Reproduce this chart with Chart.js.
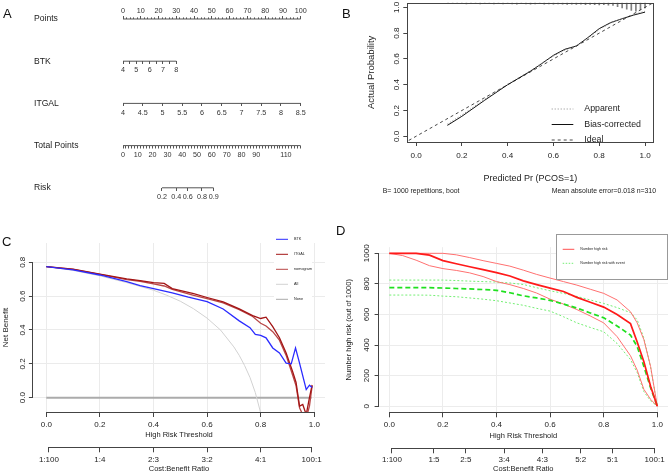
<!DOCTYPE html>
<html><head><meta charset="utf-8">
<script src="https://cdn.jsdelivr.net/npm/chart.js@4.4.1/dist/chart.umd.min.js"></script>
<style>
html,body{margin:0;padding:0;background:#fff;}
body{width:669px;height:473px;position:relative;overflow:hidden;font-family:"Liberation Sans",Arial,sans-serif;}
canvas{position:absolute;}
.lbl{position:absolute;font-size:13px;line-height:13px;color:#111;z-index:5;}
</style></head><body>
<canvas id="cA" width="335" height="230" style="left:0;top:0;width:335px;height:230px"></canvas>
<canvas id="cB" width="334" height="230" style="left:335px;top:0;width:334px;height:230px"></canvas>
<canvas id="cC" width="335" height="243" style="left:0;top:230px;width:335px;height:243px"></canvas>
<canvas id="cD" width="334" height="243" style="left:335px;top:230px;width:334px;height:243px"></canvas>
<div class="lbl" style="left:3px;top:7px">A</div>
<div class="lbl" style="left:342px;top:7px">B</div>
<div class="lbl" style="left:2px;top:235px">C</div>
<div class="lbl" style="left:336px;top:224px">D</div>
<script>
// ---------------- Panel A: nomogram ----------------
const nomRows = ['Points','BTK','ITGAL','Total Points','Risk'];
const nomRowPos = [0,1,2,3,4];
const pointsLabels = [0,10,20,30,40,50,60,70,80,90,100];
const pointsMinorStep = 2;
const btkTicks = [4,4.5,5,5.5,6,6.5,7,7.5,8];
const btkLabels = [4,5,6,7,8];
const btkPointsAtMax = 30;
const itgalTicks = [4,4.5,5,5.5,6,6.5,7,7.5,8,8.5];
const totalLabels = [0,10,20,30,40,50,60,70,80,90,110];
const totalMax = 120;
const totalMinorStep = 2;
const riskLabels = ['0.2','0.4','0.6','0.8','0.9'];
const riskAtTotal = [26.3,35.9,43.7,53.3,61.2];

// ---------------- Panel B: calibration ----------------
const calTicks = [0,0.2,0.4,0.6,0.8,1.0];
const calX     = [0.137,0.2,0.3,0.4,0.5,0.55,0.6,0.65,0.7,0.75,0.8,0.85,0.9,0.95,1.0];
const biasY    = [0.085,0.155,0.28,0.40,0.505,0.565,0.628,0.675,0.70,0.765,0.835,0.882,0.912,0.94,0.963];
const apparentY= [0.095,0.165,0.288,0.405,0.51,0.568,0.622,0.668,0.702,0.76,0.828,0.878,0.914,0.945,0.97];
const idealX   = [-0.1,1.1];
const rugX = [0.14,0.16,0.18,0.20,0.22,0.24,0.26,0.28,0.30,0.32,0.34,0.36,0.38,0.40,0.42,0.44,0.46,0.48,0.50,0.52,0.54,0.56,0.58,0.60,0.62,0.64,0.66,0.68,0.70,0.72,0.74,0.76,0.78,0.80,0.82,0.84,0.86,0.88,0.90,0.92,0.94,0.96,0.98,1.0];
const rugH = [0.006,0.008,0.006,0.008,0.01,0.008,0.006,0.01,0.008,0.008,0.01,0.008,0.01,0.008,0.01,0.012,0.008,0.01,0.012,0.01,0.008,0.012,0.01,0.012,0.01,0.012,0.014,0.012,0.014,0.012,0.016,0.014,0.016,0.018,0.016,0.02,0.022,0.03,0.04,0.05,0.06,0.065,0.055,0.04];
const calXRange = [-0.038,1.036];
const calYRange = [-0.044,1.036];

// ---------------- Panel C: decision curve ----------------
const dcaTicks = [0,0.2,0.4,0.6,0.8,1.0];
const nbTicks = [0,0.2,0.4,0.6,0.8];
const cbLabelsC = ['1:100','1:4','2:3','3:2','4:1','100:1'];
const cbPosC = [0.0099,0.2,0.4,0.6,0.8,0.9901];
const btkT  = [0,0.1,0.2,0.3,0.35,0.4,0.47,0.53,0.6,0.66,0.72,0.76,0.78,0.80,0.82,0.845,0.87,0.895,0.914,0.93,0.945,0.97,0.982,0.992];
const btkNB = [0.775,0.755,0.725,0.686,0.662,0.644,0.62,0.594,0.568,0.524,0.454,0.414,0.374,0.368,0.354,0.294,0.264,0.204,0.2,0.294,0.204,0.048,0.074,0.06];
const redT    = [0,0.1,0.2,0.3,0.35,0.4,0.44,0.47,0.55,0.6,0.66,0.72,0.77,0.80,0.82,0.845,0.87,0.895,0.92,0.932,0.945,0.957,0.97,0.982,0.992];
const itgalNB = [0.775,0.76,0.73,0.702,0.692,0.68,0.675,0.645,0.615,0.592,0.566,0.525,0.485,0.468,0.476,0.42,0.354,0.264,0.15,0.09,-0.05,-0.04,-0.1,0.0,0.075];
const nomoNB  = [0.775,0.758,0.728,0.698,0.688,0.672,0.66,0.64,0.605,0.585,0.56,0.52,0.48,0.44,0.424,0.39,0.34,0.25,0.13,0.07,-0.06,-0.1,-0.12,-0.05,0.07];
const allT  = [0,0.1,0.2,0.3,0.4,0.45,0.5,0.55,0.6,0.65,0.7,0.72,0.74,0.76,0.78,0.8];
const allNB = [0.775,0.752,0.72,0.68,0.635,0.605,0.57,0.525,0.47,0.4,0.3,0.25,0.19,0.12,0.03,-0.09];
const noneT  = [0,0.99];
const noneNB = [0,0];

// ---------------- Panel D: clinical impact ----------------
const nhrTicks = [0,200,400,600,800,1000];
const cbLabelsD = ['1:100','1:5','2:5','3:4','4:3','5:2','5:1','100:1'];
const cbPosD = [0.0099,0.1667,0.2857,0.4286,0.5714,0.7143,0.8333,0.9901];
const impT = [0,0.05,0.1,0.15,0.2,0.25,0.3,0.35,0.4,0.45,0.5,0.55,0.6,0.65,0.7,0.75,0.8,0.85,0.9,0.925,0.95,0.975,1.0];
const hrMain  = [1000,1000,1000,988,952,932,912,893,874,852,820,795,772,750,712,680,648,600,540,420,290,130,0];
const hrUpper = [1000,1000,1000,1000,1000,990,972,952,934,916,890,862,838,815,792,765,738,695,618,545,435,260,0];
const hrLower = [1000,985,955,919,900,888,872,848,815,795,770,740,700,668,632,590,545,455,330,236,110,45,0];
const evMain  = [775,775,775,775,773,770,767,763,758,742,722,708,692,668,642,610,578,525,465,390,260,120,0];
const evUpper = [825,825,825,825,825,822,818,815,812,806,796,775,755,738,718,695,672,645,612,565,445,255,0];
const evLower = [727,727,727,726,720,716,708,700,690,675,660,640,622,585,545,515,487,410,305,220,95,35,0];

// ---------------- helpers ----------------
const FONT = "'Liberation Sans', Arial, Helvetica, sans-serif";
const TXT = '#222';
const AXC = '#444';
Chart.defaults.font.family = FONT;
Chart.defaults.color = TXT;
Chart.defaults.animation = false;
Chart.defaults.events = [];
Chart.defaults.plugins.legend.display = false;
Chart.defaults.plugins.tooltip.enabled = false;

function range(a, b, s) { const r = []; for (let v = a; v <= b + 1e-9; v += s) r.push(+v.toFixed(4)); return r; }
function pts(xs, ys) { return xs.map((x, i) => ({x: x, y: ys[i]})); }
function setTicks(vals) { return s => { s.ticks = vals.map(v => ({value: v})); }; }
function fixW(w) { return s => { s.width = w; s.paddingTop = 0; s.paddingBottom = 0; s.paddingLeft = 0; s.paddingRight = 0; }; }
function fixH(h) { return s => { s.height = h; s.paddingTop = 0; s.paddingBottom = 0; s.paddingLeft = 0; s.paddingRight = 0; }; }

const rPlugin = {
  id: 'rstyle',
  afterDatasetsDraw(chart, args, o) {
    const ctx = chart.ctx;
    const a = chart.chartArea;
    ctx.save();
    ctx.strokeStyle = AXC; ctx.lineWidth = 1; ctx.setLineDash([]);
    if (o.box) {
      ctx.strokeRect(Math.round(a.left) + 0.5, Math.round(a.top) + 0.5, Math.round(a.right - a.left), Math.round(a.bottom - a.top));
    }
    (o.axisLines || []).forEach(id => {
      const s = chart.scales[id];
      const t = s.ticks; if (!t.length) return;
      const p0 = s.getPixelForValue(t[0].value), p1 = s.getPixelForValue(t[t.length - 1].value);
      ctx.beginPath();
      if (s.isHorizontal()) { const y = Math.round(s.top) + 0.5; ctx.moveTo(p0, y); ctx.lineTo(p1, y); }
      else { const x = Math.round(s.right) - 0.5; ctx.moveTo(x, p0); ctx.lineTo(x, p1); }
      ctx.stroke();
    });
    const L = o.legend;
    if (L) {
      ctx.save();
      if (L.clip) { ctx.beginPath(); ctx.rect(a.left, a.top, a.right - a.left, a.bottom - a.top); ctx.clip(); }
      if (L.bg) {
        ctx.fillStyle = '#fff'; ctx.fillRect(L.bg[0], L.bg[1], L.bg[2], L.bg[3]);
        if (L.border) { ctx.strokeStyle = L.border; ctx.lineWidth = 1; ctx.strokeRect(L.bg[0] + 0.5, L.bg[1] + 0.5, L.bg[2], L.bg[3]); }
      }
      L.items.forEach((it, k) => {
        const ds = chart.data.datasets[it.ds];
        const y = L.y + k * L.dy;
        ctx.beginPath();
        ctx.setLineDash(it.dash || ds.borderDash || []);
        ctx.strokeStyle = it.color || ds.borderColor;
        ctx.lineWidth = it.lw || ds.borderWidth;
        ctx.moveTo(L.x, y); ctx.lineTo(L.x + L.len, y); ctx.stroke();
        ctx.setLineDash([]);
        ctx.fillStyle = L.textColor || TXT;
        ctx.font = L.size + 'px ' + FONT;
        ctx.textBaseline = 'middle'; ctx.textAlign = 'left';
        ctx.fillText(ds.label, L.x + L.len + L.gap, y);
      });
      ctx.restore();
    }
    (o.texts || []).forEach(t => {
      ctx.fillStyle = TXT; ctx.font = t.size + 'px ' + FONT;
      ctx.textAlign = t.align; ctx.textBaseline = 'middle';
      ctx.fillText(t.text, t.x, t.y);
    });
    ctx.restore();
  }
};

// ---------------- Chart A ----------------
function nomAxis(row, min, max, tickVals, labelFn, tl, pad, showLabels) {
  return {
    type: 'linear', axis: 'x', position: {y: nomRowPos[row]}, min: min, max: max,
    afterBuildTicks: setTicks(tickVals),
    afterFit: fixH(0),
    ticks: {display: showLabels, autoSkip: false, maxRotation: 0, minRotation: 0, padding: pad, color: '#333', font: {size: 7.2}, callback: labelFn},
    grid: {display: true, drawOnChartArea: false, drawTicks: true, tickLength: tl, tickColor: '#555', lineWidth: 1, tickWidth: 1},
    border: {display: false}
  };
}
function nomLine(axisId, row, x0, x1) {
  return {data: [{x: x0, y: nomRowPos[row]}, {x: x1, y: nomRowPos[row]}], xAxisID: axisId, yAxisID: 'y',
    showLine: true, borderColor: '#555', borderWidth: 1, pointRadius: 0, clip: false};
}
const btkMax = btkTicks[0] + (btkTicks[btkTicks.length - 1] - btkTicks[0]) * 100 / btkPointsAtMax;
new Chart(document.getElementById('cA'), {
  type: 'scatter',
  data: {datasets: [
    nomLine('pts', 0, pointsLabels[0], pointsLabels[pointsLabels.length - 1]),
    nomLine('btk', 1, btkTicks[0], btkTicks[btkTicks.length - 1]),
    nomLine('itgal', 2, itgalTicks[0], itgalTicks[itgalTicks.length - 1]),
    nomLine('tot', 3, 0, totalMax),
    nomLine('risk', 4, riskAtTotal[0], riskAtTotal[riskAtTotal.length - 1])
  ]},
  options: {
    responsive: false, maintainAspectRatio: false,
    layout: {padding: {left: 34, right: 34.3, top: 0, bottom: 0}},
    scales: {
      y: {type: 'linear', position: 'left', min: -0.45, max: 5.0, reverse: true,
        afterBuildTicks: setTicks(nomRowPos),
        ticks: {autoSkip: false, crossAlign: 'far', padding: 44, color: '#222', font: {size: 8.6}, callback: (v, i) => nomRows[i]},
        grid: {display: false, drawTicks: false}, border: {display: false},
        afterFit: fixW(89)},
      pts: nomAxis(0, 0, 100, pointsLabels, v => String(v), -3, -9.6, true),
      ptsMin: nomAxis(0, 0, 100, range(0, 100, pointsMinorStep), v => '', -1.6, 0, false),
      btk: nomAxis(1, btkTicks[0], btkMax, btkTicks, v => btkLabels.includes(v) ? String(v) : '', 3, 1.7, true),
      itgal: nomAxis(2, itgalTicks[0], itgalTicks[itgalTicks.length - 1], itgalTicks, v => String(v), 3, 2.3, true),
      tot: nomAxis(3, 0, totalMax, range(0, totalMax, totalMinorStep), v => totalLabels.includes(v) ? String(v) : '', 2.5, 2.5, true),
      risk: nomAxis(4, 0, totalMax, riskAtTotal, (v, i) => riskLabels[i], 3, 1.7, true)
    }
  }
});

// ---------------- Chart B ----------------
new Chart(document.getElementById('cB'), {
  type: 'scatter',
  data: {datasets: [
    {label: 'Apparent', data: pts(calX, apparentY), showLine: true, borderColor: '#8a8a8a', borderWidth: 1, borderDash: [1, 2], pointRadius: 0},
    {label: 'Bias-corrected', data: pts(calX, biasY), showLine: true, borderColor: '#111', borderWidth: 1, pointRadius: 0},
    {label: 'Ideal', data: pts(idealX, idealX), showLine: true, borderColor: '#333', borderWidth: 0.9, borderDash: [3, 3], pointRadius: 0},
    {type: 'bar', label: 'rug', data: rugX.map((x, i) => ({x: x, y: [calYRange[1] - rugH[i], calYRange[1]]})), backgroundColor: '#808080', barThickness: 1, grouped: false}
  ]},
  options: {
    responsive: false, maintainAspectRatio: false,
    layout: {padding: {left: 26, right: 15.7, top: 2.7, bottom: 46}},
    scales: {
      x: {type: 'linear', min: calXRange[0], max: calXRange[1], offset: false,
        afterBuildTicks: setTicks(calTicks),
        ticks: {autoSkip: false, maxRotation: 0, minRotation: 0, padding: 5.1, font: {size: 8.1}, color: TXT, callback: v => v.toFixed(1)},
        grid: {drawOnChartArea: false, offset: false, tickLength: 4, tickColor: AXC, lineWidth: 1},
        border: {display: false},
        title: {display: true, text: 'Predicted Pr (PCOS=1)', font: {size: 9}, color: TXT, padding: {top: 0, bottom: 0}},
        afterFit: fixH(42)},
      y: {type: 'linear', min: calYRange[0], max: calYRange[1], beginAtZero: false,
        afterBuildTicks: setTicks(calTicks),
        ticks: {autoSkip: false, minRotation: 90, maxRotation: 90, crossAlign: 'center', padding: 0.7, font: {size: 8.1}, color: TXT, callback: v => v.toFixed(1)},
        grid: {drawOnChartArea: false, tickLength: 4, tickColor: AXC, lineWidth: 1},
        border: {display: false},
        title: {display: true, text: 'Actual Probability', font: {size: 9.5}, color: TXT, padding: {top: 4.6, bottom: 0}},
        afterFit: fixW(46.3)}
    },
    plugins: {rstyle: {
      box: true,
      legend: {x: 216.7, y: 109, dy: 15.5, len: 21.6, gap: 11, size: 8.8, clip: true, items: [{ds: 0}, {ds: 1}, {ds: 2}]},
      texts: [
        {text: 'B= 1000 repetitions, boot', x: 47.7, y: 191, align: 'left', size: 6.9},
        {text: 'Mean absolute error=0.018 n=310', x: 321, y: 191, align: 'right', size: 6.9}
      ]
    }}
  },
  plugins: [rPlugin]
});

// ---------------- Chart C ----------------
const gridC = '#ebebeb';
new Chart(document.getElementById('cC'), {
  type: 'scatter',
  data: {datasets: [
    {label: 'BTK', data: pts(btkT, btkNB), showLine: true, borderColor: '#2b2bff', borderWidth: 1.3, pointRadius: 0},
    {label: 'ITGAL', data: pts(redT, itgalNB), showLine: true, borderColor: '#a31515', borderWidth: 1.3, pointRadius: 0},
    {label: 'nomogram', data: pts(redT, nomoNB), showLine: true, borderColor: '#b84646', borderWidth: 1.3, pointRadius: 0},
    {label: 'All', data: pts(allT, allNB), showLine: true, borderColor: '#d2d2d2', borderWidth: 1, pointRadius: 0},
    {label: 'None', data: pts(noneT, noneNB), showLine: true, borderColor: '#ababab', borderWidth: 2, pointRadius: 0}
  ]},
  options: {
    responsive: false, maintainAspectRatio: false,
    layout: {padding: {left: 0, right: 10, top: 13, bottom: 0}},
    scales: {
      x: {type: 'linear', position: 'bottom', weight: 0, min: -0.05, max: 1.04,
        afterBuildTicks: setTicks(dcaTicks),
        ticks: {autoSkip: false, maxRotation: 0, minRotation: 0, padding: 3.2, font: {size: 8}, color: TXT, callback: v => v.toFixed(1)},
        grid: {drawOnChartArea: true, color: gridC, lineWidth: 1, tickLength: 5, tickColor: AXC, tickWidth: 1},
        border: {display: false},
        title: {display: true, text: 'High Risk Threshold', font: {size: 7.5}, color: TXT, padding: {top: 0, bottom: 7.8}},
        afterFit: fixH(35.3)},
      x2: {type: 'linear', axis: 'x', position: 'bottom', weight: 1, min: -0.05, max: 1.04,
        afterBuildTicks: setTicks(cbPosC),
        ticks: {autoSkip: false, maxRotation: 0, minRotation: 0, padding: 2.2, font: {size: 8}, color: TXT, callback: (v, i) => cbLabelsC[i]},
        grid: {drawOnChartArea: false, tickLength: 5, tickColor: AXC, lineWidth: 1},
        border: {display: false},
        title: {display: true, text: 'Cost:Benefit Ratio', font: {size: 7.5}, color: TXT, padding: {top: 0, bottom: 0}},
        afterFit: fixH(25.7)},
      y: {type: 'linear', min: -0.0845, max: 0.914,
        afterBuildTicks: setTicks(nbTicks),
        ticks: {autoSkip: false, minRotation: 90, maxRotation: 90, crossAlign: 'center', padding: 0.6, font: {size: 8}, color: TXT, callback: v => v.toFixed(1)},
        grid: {drawOnChartArea: true, color: gridC, lineWidth: 1, tickLength: 4, tickColor: AXC, tickWidth: 1},
        border: {display: false},
        title: {display: true, text: 'Net Benefit', font: {size: 8}, color: TXT, padding: {top: 1.2, bottom: 0}},
        afterFit: fixW(32.9)}
    },
    plugins: {rstyle: {
      axisLines: ['x', 'x2', 'y'],
      legend: {x: 276, y: 9.3, dy: 15, len: 12, gap: 6, size: 3.8, bg: [274, 0, 38, 78],
        items: [{ds: 0, lw: 1}, {ds: 1, lw: 1}, {ds: 2, lw: 1}, {ds: 3, lw: 1}, {ds: 4, lw: 1}]}
    }}
  },
  plugins: [rPlugin]
});

// ---------------- Chart D ----------------
const gridD = '#ececec';
new Chart(document.getElementById('cD'), {
  type: 'scatter',
  data: {datasets: [
    {label: 'Number high risk', data: pts(impT, hrMain), showLine: true, borderColor: '#ff1a1a', borderWidth: 1.7, pointRadius: 0},
    {label: 'Number high risk with event', data: pts(impT, evMain), showLine: true, borderColor: '#1fe01f', borderWidth: 1.7, borderDash: [5, 3], pointRadius: 0},
    {label: 'hr upper', data: pts(impT, hrUpper), showLine: true, borderColor: '#ff7070', borderWidth: 1, pointRadius: 0},
    {label: 'hr lower', data: pts(impT, hrLower), showLine: true, borderColor: '#ff7070', borderWidth: 1, pointRadius: 0},
    {label: 'ev upper', data: pts(impT, evUpper), showLine: true, borderColor: '#74ee74', borderWidth: 1, borderDash: [2, 2], pointRadius: 0},
    {label: 'ev lower', data: pts(impT, evLower), showLine: true, borderColor: '#74ee74', borderWidth: 1, borderDash: [2, 2], pointRadius: 0}
  ]},
  options: {
    responsive: false, maintainAspectRatio: false,
    layout: {padding: {left: 0, right: 1, top: 17.2, bottom: 0}},
    scales: {
      x: {type: 'linear', position: 'bottom', weight: 0, min: -0.04, max: 1.04,
        afterBuildTicks: setTicks(dcaTicks),
        ticks: {autoSkip: false, maxRotation: 0, minRotation: 0, padding: 2.9, font: {size: 8}, color: TXT, callback: v => v.toFixed(1)},
        grid: {drawOnChartArea: true, color: gridD, lineWidth: 1, tickLength: 5, tickColor: AXC, tickWidth: 1},
        border: {display: false},
        title: {display: true, text: 'High Risk Threshold', font: {size: 7.5}, color: TXT, padding: {top: 0, bottom: 8.1}},
        afterFit: fixH(36)},
      x2: {type: 'linear', axis: 'x', position: 'bottom', weight: 1, min: -0.04, max: 1.04,
        afterBuildTicks: setTicks(cbPosD),
        ticks: {autoSkip: false, maxRotation: 0, minRotation: 0, padding: 1.2, font: {size: 8}, color: TXT, callback: (v, i) => cbLabelsD[i]},
        grid: {drawOnChartArea: false, tickLength: 5, tickColor: AXC, lineWidth: 1},
        border: {display: false},
        title: {display: true, text: 'Cost:Benefit Ratio', font: {size: 7.5}, color: TXT, padding: {top: 0, bottom: 0}},
        afterFit: fixH(24.7)},
      y: {type: 'linear', min: -40, max: 1040,
        afterBuildTicks: setTicks(nhrTicks),
        ticks: {autoSkip: false, minRotation: 90, maxRotation: 90, crossAlign: 'center', padding: -1, font: {size: 8}, color: TXT, callback: v => String(v)},
        grid: {drawOnChartArea: true, color: gridD, lineWidth: 1, tickLength: 4, tickColor: AXC, tickWidth: 1},
        border: {display: false},
        title: {display: true, text: 'Number high risk (out of 1000)', font: {size: 7.5}, color: TXT, padding: {top: 9.5, bottom: 0}},
        afterFit: fixW(43.6)}
    },
    plugins: {rstyle: {
      axisLines: ['x', 'x2', 'y'],
      legend: {x: 227.7, y: 19.3, dy: 14, len: 11.6, gap: 6, size: 3.6, bg: [221, 4, 111, 45], border: '#999',
        items: [{ds: 0, lw: 1, color: '#ff5050', dash: []}, {ds: 1, lw: 1, color: '#74ee74', dash: [1.5, 1.5]}]}
    }}
  },
  plugins: [rPlugin]
});
</script>
</body></html>
